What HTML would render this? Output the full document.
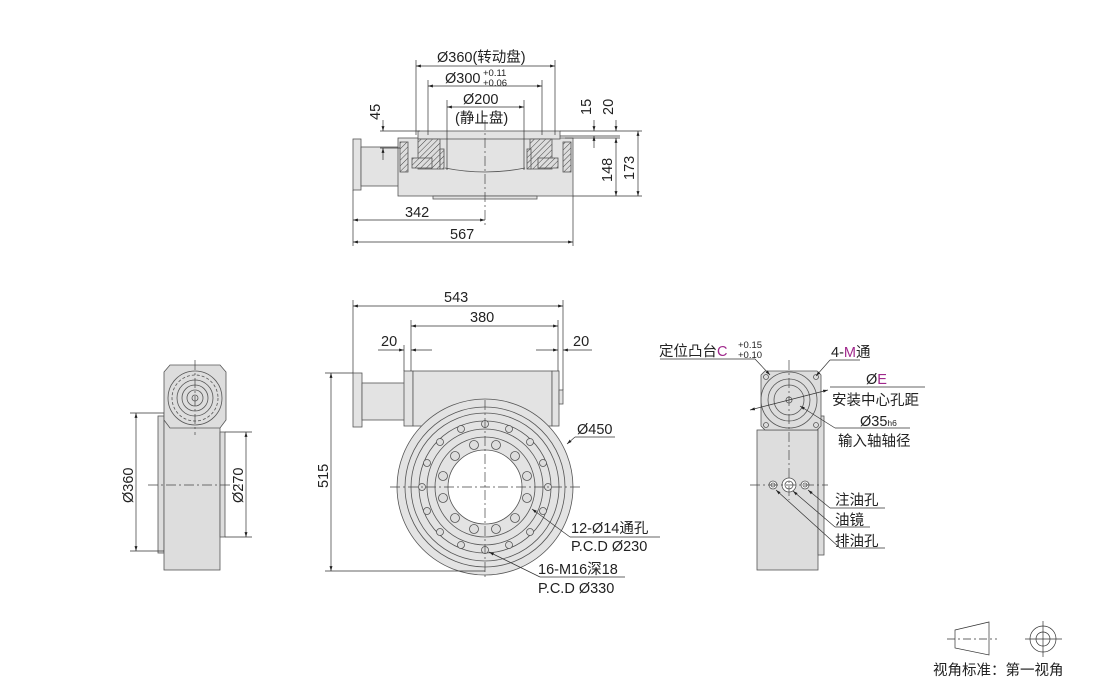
<!DOCTYPE html>
<html><head><meta charset="utf-8"><style>
html,body{margin:0;padding:0;background:#fff;}
svg{display:block;}
text{font-family:"Liberation Sans","Noto Sans CJK SC",sans-serif;fill:#222;}
</style></head><body>
<svg width="1110" height="680" viewBox="0 0 1110 680" xmlns="http://www.w3.org/2000/svg">
<defs>
<marker id="a" viewBox="0 0 10 10" refX="10" refY="5" markerWidth="7" markerHeight="7" orient="auto-start-reverse"><path d="M0,2 L10,5 L0,8z" fill="#222"/></marker>
<pattern id="h" width="4" height="4" patternUnits="userSpaceOnUse" patternTransform="rotate(45)"><rect width="4" height="4" fill="#ddd"/><line x1="0" y1="0" x2="0" y2="4" stroke="#444" stroke-width="1"/></pattern>
</defs>
<g stroke="#555" stroke-width="0.8" fill="#e3e3e3">
<!-- TOP VIEW -->
<rect x="353" y="139" width="8" height="51"/>
<rect x="361" y="147" width="38" height="39"/>
<rect x="398" y="138" width="175" height="58"/>
<rect x="433" y="196" width="104" height="3"/>
<rect x="418" y="131" width="142" height="8"/>
<rect x="418" y="139" width="22" height="30" fill="url(#h)"/>
<rect x="530" y="139" width="22" height="30" fill="url(#h)"/>
<rect x="400" y="142" width="8" height="30" fill="url(#h)"/>
<rect x="563" y="142" width="8" height="30" fill="url(#h)"/>
<rect x="440" y="149" width="4" height="20" fill="url(#h)"/>
<rect x="527" y="149" width="4" height="20" fill="url(#h)"/>
<rect x="412" y="158" width="20" height="10" fill="url(#h)"/>
<rect x="538" y="158" width="20" height="10" fill="url(#h)"/>
<path d="M445,168 Q485,176 525,168" fill="none"/>
<!-- FRONT VIEW -->
<rect x="353" y="373" width="9" height="54"/>
<rect x="362" y="383" width="43" height="37"/>
<rect x="404" y="371" width="9" height="55"/>
<rect x="413" y="371" width="139" height="55"/>
<rect x="552" y="371" width="7" height="55"/>
<rect x="559" y="390" width="4" height="14"/>
<circle cx="485" cy="487" r="88"/>
<circle cx="485" cy="487" r="80" fill="none"/>
<circle cx="485" cy="487" r="74" fill="none"/>
<circle cx="485" cy="487" r="66" fill="none"/>
<circle cx="485" cy="487" r="58" fill="none"/>
<circle cx="485" cy="487" r="50" fill="none"/>
<circle cx="485" cy="487" r="37" fill="#fff"/>
</g>
<g stroke="#555" stroke-width="0.8" fill="#ddd">
<circle cx="485" cy="424" r="3.5"/><circle cx="509" cy="429" r="3.5"/><circle cx="530" cy="442" r="3.5"/><circle cx="543" cy="463" r="3.5"/>
<circle cx="548" cy="487" r="3.5"/><circle cx="543" cy="511" r="3.5"/><circle cx="530" cy="532" r="3.5"/><circle cx="509" cy="545" r="3.5"/>
<circle cx="485" cy="550" r="3.5"/><circle cx="461" cy="545" r="3.5"/><circle cx="440" cy="532" r="3.5"/><circle cx="427" cy="511" r="3.5"/>
<circle cx="422" cy="487" r="3.5"/><circle cx="427" cy="463" r="3.5"/><circle cx="440" cy="442" r="3.5"/><circle cx="461" cy="429" r="3.5"/>
<circle cx="474" cy="445" r="4.5"/><circle cx="496" cy="445" r="4.5"/><circle cx="515" cy="456" r="4.5"/><circle cx="527" cy="476" r="4.5"/>
<circle cx="527" cy="498" r="4.5"/><circle cx="515" cy="518" r="4.5"/><circle cx="496" cy="529" r="4.5"/><circle cx="474" cy="529" r="4.5"/>
<circle cx="455" cy="518" r="4.5"/><circle cx="443" cy="498" r="4.5"/><circle cx="443" cy="476" r="4.5"/><circle cx="455" cy="456" r="4.5"/>
<!-- SIDE LEFT -->
<rect x="158" y="416" width="6" height="137"/>
<rect x="164" y="414" width="56" height="156"/>
<rect x="220" y="432" width="5" height="105"/>
<path d="M170,365 L220,365 L226,372 L226,420 L220,428 L170,428 L164,420 L164,372z"/>
<circle cx="195" cy="398" r="27" fill="#ddd"/>
<circle cx="195" cy="398" r="23" fill="none" stroke-dasharray="3,2"/>
<circle cx="195" cy="398" r="18" fill="none"/>
<circle cx="195" cy="398" r="13" fill="none"/>
<circle cx="195" cy="398" r="8" fill="none"/>
<circle cx="195" cy="398" r="3" fill="none"/>
<!-- SIDE RIGHT -->
<rect x="757" y="430" width="61" height="140"/>
<rect x="818" y="416" width="6" height="139"/>
<path d="M765,371 L817,371 L821,375 L821,426 L817,430 L765,430 L761,426 L761,375z"/>
<circle cx="789" cy="400" r="28" fill="none"/>
<circle cx="789" cy="400" r="21" fill="none"/>
<circle cx="789" cy="400" r="15" fill="none"/>
<circle cx="789" cy="400" r="3" fill="none"/>
<circle cx="766" cy="377" r="2.5"/><circle cx="816" cy="377" r="2.5"/><circle cx="766" cy="425" r="2.5"/><circle cx="816" cy="425" r="2.5"/>
<circle cx="773" cy="485" r="4" fill="#fff"/><circle cx="773" cy="485" r="2" fill="none"/>
<circle cx="789" cy="485" r="7" fill="#fff"/><circle cx="789" cy="485" r="4" fill="none"/>
<circle cx="805" cy="485" r="4" fill="#fff"/><circle cx="805" cy="485" r="2" fill="none"/>
</g>
<g stroke="#444" stroke-width="0.7" stroke-dasharray="10,3,2,3" fill="none">
<line x1="485" y1="120" x2="485" y2="225"/>
<line x1="485" y1="400" x2="485" y2="578"/>
<line x1="390" y1="487" x2="580" y2="487"/>
<line x1="148" y1="485" x2="240" y2="485"/>
<line x1="195" y1="360" x2="195" y2="435"/>
<line x1="789" y1="360" x2="789" y2="500"/>
<line x1="750" y1="485" x2="828" y2="485"/>
</g>
<g stroke="#333" stroke-width="0.7" fill="none">
<line x1="416" y1="60" x2="416" y2="135"/><line x1="555" y1="60" x2="555" y2="135"/>
<line x1="416" y1="66" x2="555" y2="66" marker-start="url(#a)" marker-end="url(#a)"/>
<line x1="428" y1="80" x2="428" y2="135"/><line x1="542" y1="80" x2="542" y2="135"/>
<line x1="428" y1="86" x2="542" y2="86" marker-start="url(#a)" marker-end="url(#a)"/>
<line x1="447" y1="100" x2="447" y2="170"/><line x1="524" y1="100" x2="524" y2="170"/>
<line x1="447" y1="107" x2="524" y2="107" marker-start="url(#a)" marker-end="url(#a)"/>
<line x1="380" y1="131" x2="420" y2="131"/><line x1="380" y1="148" x2="400" y2="148"/>
<line x1="383" y1="120" x2="383" y2="131" marker-end="url(#a)"/><line x1="383" y1="160" x2="383" y2="148" marker-end="url(#a)"/>
<line x1="560" y1="131" x2="642" y2="131"/><line x1="560" y1="136" x2="620" y2="136"/><line x1="565" y1="138" x2="620" y2="138"/><line x1="573" y1="196" x2="642" y2="196"/>
<line x1="594" y1="120" x2="594" y2="131" marker-end="url(#a)"/><line x1="594" y1="148" x2="594" y2="136" marker-end="url(#a)"/>
<line x1="616" y1="120" x2="616" y2="131" marker-end="url(#a)"/>
<line x1="616" y1="138" x2="616" y2="196" marker-start="url(#a)" marker-end="url(#a)"/>
<line x1="638" y1="131" x2="638" y2="196" marker-start="url(#a)" marker-end="url(#a)"/>
<line x1="353" y1="190" x2="353" y2="246"/><line x1="573" y1="196" x2="573" y2="246"/>
<line x1="353" y1="220" x2="485" y2="220" marker-start="url(#a)" marker-end="url(#a)"/>
<line x1="353" y1="242" x2="573" y2="242" marker-start="url(#a)" marker-end="url(#a)"/>
<line x1="353" y1="300" x2="353" y2="373"/><line x1="563" y1="300" x2="563" y2="390"/>
<line x1="353" y1="306" x2="563" y2="306" marker-start="url(#a)" marker-end="url(#a)"/>
<line x1="411" y1="320" x2="411" y2="371"/><line x1="558" y1="320" x2="558" y2="371"/>
<line x1="411" y1="326" x2="558" y2="326" marker-start="url(#a)" marker-end="url(#a)"/>
<line x1="404" y1="345" x2="404" y2="371"/>
<line x1="378" y1="350" x2="404" y2="350" marker-end="url(#a)"/><line x1="432" y1="350" x2="411" y2="350" marker-end="url(#a)"/>
<line x1="536" y1="350" x2="558" y2="350" marker-end="url(#a)"/><line x1="592" y1="350" x2="563" y2="350" marker-end="url(#a)"/>
<line x1="325" y1="373" x2="353" y2="373"/><line x1="325" y1="571" x2="485" y2="571"/>
<line x1="331" y1="373" x2="331" y2="571" marker-start="url(#a)" marker-end="url(#a)"/>
<line x1="615" y1="437" x2="575" y2="437"/><line x1="575" y1="437" x2="567" y2="444" marker-end="url(#a)"/>
<line x1="660" y1="537" x2="570" y2="537"/><line x1="570" y1="537" x2="532" y2="509" marker-end="url(#a)"/>
<line x1="625" y1="577" x2="540" y2="577"/><line x1="540" y1="577" x2="489" y2="552" marker-end="url(#a)"/>
<line x1="130" y1="413" x2="164" y2="413"/><line x1="130" y1="551" x2="164" y2="551"/>
<line x1="136" y1="413" x2="136" y2="551" marker-start="url(#a)" marker-end="url(#a)"/>
<line x1="225" y1="432" x2="252" y2="432"/><line x1="225" y1="537" x2="252" y2="537"/>
<line x1="246" y1="432" x2="246" y2="537" marker-start="url(#a)" marker-end="url(#a)"/>
<line x1="660" y1="359" x2="755" y2="359"/><line x1="755" y1="359" x2="770" y2="375" marker-end="url(#a)"/>
<line x1="860" y1="360" x2="830" y2="360"/><line x1="830" y1="360" x2="816" y2="376" marker-end="url(#a)"/>
<line x1="925" y1="387" x2="830" y2="387"/><line x1="750" y1="410" x2="828" y2="390" marker-start="url(#a)" marker-end="url(#a)"/>
<line x1="910" y1="428" x2="835" y2="428"/><line x1="835" y1="428" x2="800" y2="406" marker-end="url(#a)"/>
<line x1="885" y1="508" x2="830" y2="508"/><line x1="830" y1="508" x2="808" y2="490" marker-end="url(#a)"/>
<line x1="870" y1="527" x2="835" y2="527"/><line x1="835" y1="527" x2="793" y2="491" marker-end="url(#a)"/>
<line x1="885" y1="548" x2="840" y2="548"/><line x1="840" y1="548" x2="776" y2="490" marker-end="url(#a)"/>
<path d="M955,630 L989,622 L989,655 L955,648z"/>
<line x1="947" y1="639" x2="997" y2="639" stroke-dasharray="8,3,2,3"/>
<circle cx="1043" cy="639" r="13"/><circle cx="1043" cy="639" r="7"/>
<line x1="1025" y1="639" x2="1062" y2="639"/><line x1="1043" y1="621" x2="1043" y2="657"/>
</g>
<g font-size="14.5">
<text x="437" y="62">Ø360(转动盘)</text>
<text x="445" y="83">Ø300</text><text x="483" y="76" font-size="9.5">+0.11</text><text x="483" y="86" font-size="9.5">+0.06</text>
<text x="463" y="104">Ø200</text>
<text x="455" y="123">(静止盘)</text>
<text x="405" y="217">342</text>
<text x="450" y="239">567</text>
<text transform="translate(380,120) rotate(-90)">45</text>
<text transform="translate(591,115) rotate(-90)">15</text>
<text transform="translate(613,115) rotate(-90)">20</text>
<text transform="translate(612,182) rotate(-90)">148</text>
<text transform="translate(634,180) rotate(-90)">173</text>
<text x="444" y="302">543</text>
<text x="470" y="322">380</text>
<text x="381" y="346">20</text>
<text x="573" y="346">20</text>
<text transform="translate(328,488) rotate(-90)">515</text>
<text x="577" y="434">Ø450</text>
<text x="571" y="533">12-Ø14通孔</text>
<text x="571" y="551">P.C.D Ø230</text>
<text x="538" y="574">16-M16深18</text>
<text x="538" y="593">P.C.D Ø330</text>
<text transform="translate(133,503) rotate(-90)">Ø360</text>
<text transform="translate(243,503) rotate(-90)">Ø270</text>
<text x="659" y="356">定位凸台<tspan fill="#a0288c">C</tspan></text>
<text x="738" y="348" font-size="9.5">+0.15</text><text x="738" y="358" font-size="9.5">+0.10</text>
<text x="831" y="357">4-<tspan fill="#a0288c">M</tspan>通</text>
<text x="866" y="384">Ø<tspan fill="#a0288c">E</tspan></text>
<text x="832" y="405">安装中心孔距</text>
<text x="860" y="426">Ø35<tspan font-size="8.5">h6</tspan></text>
<text x="838" y="446">输入轴轴径</text>
<text x="835" y="505">注油孔</text>
<text x="835" y="525">油镜</text>
<text x="835" y="546">排油孔</text>
<text x="933" y="675">视角标准：第一视角</text>
</g>
</svg>
</body></html>
